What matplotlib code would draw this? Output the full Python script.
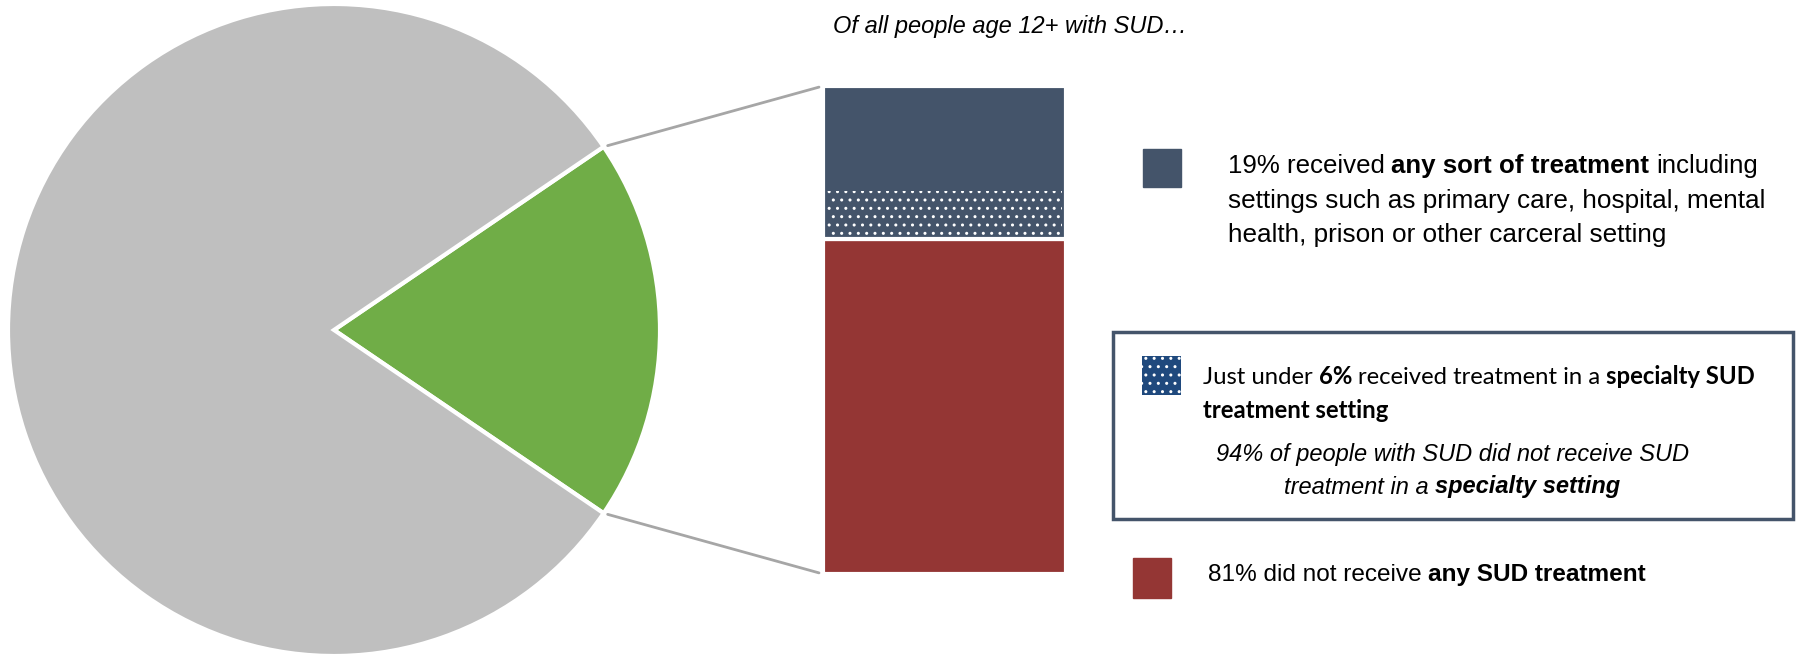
import numpy as np
import matplotlib
matplotlib.use("Agg")
import matplotlib.pyplot as plt
from matplotlib.patches import Rectangle, ConnectionPatch

# pie: share of people 12+ with SUD who got any treatment
pie_labels = ["Any SUD treatment", "No SUD treatment"]
pie_values = [19, 81]

# bar: segment heights as drawn in the picture (percent of bar height)
bar_labels = ["No SUD treatment", "Specialty SUD setting", "Other settings"]
bar_heights = [68.6, 9.9, 21.5]

GREEN = "#70ad47"
GRAY = "#bfbfbf"
SLATE = "#44546a"
RED = "#943634"
NAVY = "#1f497d"
LINE = "#a6a6a6"

MAIN = ["Liberation Sans Narrow", "Liberation Sans", "DejaVu Sans"]
ALT = ["Lato", "DejaVu Sans"]

W, H = 1800, 655
fig = plt.figure(figsize=(W / 100, H / 100), dpi=100)


def px_axes(x0, y0, x1, y1):
    # axes from pixel box (top-left origin)
    return fig.add_axes([x0 / W, 1 - y1 / H, (x1 - x0) / W, (y1 - y0) / H])


# pie
cx, cy, r = 334, 330, 326
ax_pie = px_axes(cx - r, cy - r, cx + r, cy + r)
half = pie_values[0] / sum(pie_values) * 180
ax_pie.pie(pie_values, colors=[GREEN, GRAY], startangle=-half,
           counterclock=True, radius=1,
           wedgeprops=dict(edgecolor="white", linewidth=3))
ax_pie.set_xlim(-1.0, 1.0)
ax_pie.set_ylim(-1.0, 1.0)
ax_pie.set_axis_off()

# stacked bar
ax_bar = px_axes(823, 86, 1066, 574)
no_tx, specialty, other = bar_heights
ax_bar.bar(0, no_tx, width=1, color=RED, edgecolor="white", linewidth=3)
ax_bar.bar(0, specialty + other, bottom=no_tx, width=1, color=SLATE,
           edgecolor="white", linewidth=3)
ax_bar.bar(0, specialty, bottom=no_tx, width=0.97, color="none",
           edgecolor="white", linewidth=0, hatch="..")
ax_bar.set_xlim(-0.5, 0.5)
ax_bar.set_ylim(0, sum(bar_heights))
ax_bar.set_axis_off()

# connector lines pie -> bar
a = np.deg2rad(half)
for sgn, yb in [(1, sum(bar_heights)), (-1, 0)]:
    con = ConnectionPatch(xyA=(np.cos(a), sgn * np.sin(a)), coordsA=ax_pie.transData,
                          xyB=(-0.5, yb), coordsB=ax_bar.transData,
                          color=LINE, lw=2, shrinkA=3, shrinkB=3)
    fig.add_artist(con)

# text layer in pixel coords
ax_t = fig.add_axes([0, 0, 1, 1])
ax_t.set_xlim(0, W)
ax_t.set_ylim(H, 0)
ax_t.set_axis_off()

renderer = fig.canvas.get_renderer()


def rich(x, y, parts, size, family, ha="left", gap=0.25):
    # parts: (text, weight, style); chained left to right
    arts = []
    t0 = ax_t.text(x, y, parts[0][0], fontsize=size, family=family,
                   fontweight=parts[0][1], fontstyle=parts[0][2],
                   va="center", ha="left")
    arts.append(t0)
    prev = t0
    for txt, wt, st in parts[1:]:
        prev = ax_t.annotate(txt, xy=(1, 0), xycoords=prev,
                             xytext=(gap * size, 0), textcoords="offset points",
                             fontsize=size, family=family, fontweight=wt,
                             fontstyle=st, va="bottom", ha="left")
        arts.append(prev)
    if ha == "center":
        fig.canvas.draw()
        bbs = [t.get_window_extent(renderer) for t in arts]
        width = max(b.x1 for b in bbs) - min(b.x0 for b in bbs)
        t0.set_x(x - width / 2)
    return arts


N, B = "normal", "bold"
I = "italic"

ax_t.text(1010, 26, "Of all people age 12+ with SUD…", fontsize=17,
          family=MAIN, fontstyle=I, ha="center", va="center")

# legend 1
ax_t.add_patch(Rectangle((1143, 149), 38, 38, color=SLATE))
rich(1228, 166, [("19% received", N, N), ("any sort of treatment", B, N),
                 ("including", N, N)], 18.6, MAIN)
ax_t.text(1228, 201, "settings such as primary care, hospital, mental",
          fontsize=18.8, family=MAIN, va="center")
ax_t.text(1228, 235, "health, prison or other carceral setting",
          fontsize=18.8, family=MAIN, va="center")

# boxed legend 2
ax_t.add_patch(Rectangle((1113, 332), 680, 187, facecolor="none",
                         edgecolor=SLATE, linewidth=2.5))
ax_t.add_patch(Rectangle((1142, 356), 39, 39, facecolor=NAVY, edgecolor="white",
                         linewidth=0, hatch=".."))
rich(1203, 377, [("Just under", N, N), ("6%", B, N),
                 ("received treatment in a", N, N), ("specialty SUD", B, N)],
     17.2, ALT)
ax_t.text(1203, 411, "treatment setting", fontsize=17.2, family=ALT,
          fontweight=B, va="center")
ax_t.text(1452, 455, "94% of people with SUD did not receive SUD", fontsize=17,
          family=MAIN, fontstyle=I, ha="center", va="center")
rich(1452, 487, [("treatment in a", N, I), ("specialty setting", B, I)], 17,
     MAIN, ha="center")

# legend 3
ax_t.add_patch(Rectangle((1133, 558), 38, 40, color=RED))
rich(1208, 575, [("81% did not receive", N, N), ("any SUD treatment", B, N)],
     17.6, MAIN)

fig.savefig("out.png", dpi=100)
